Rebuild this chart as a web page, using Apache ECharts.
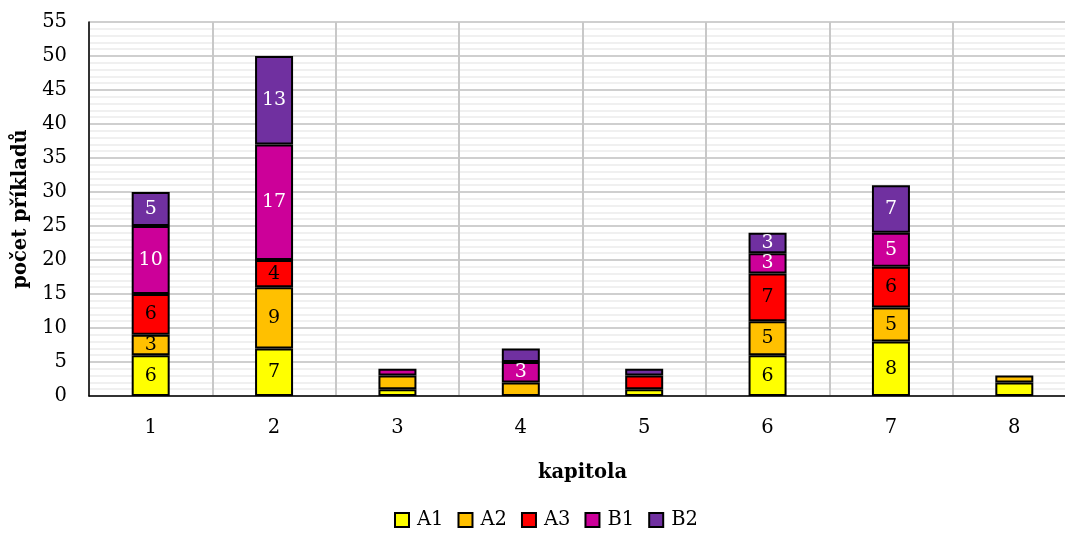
<!DOCTYPE html>
<html>
<head>
<meta charset="utf-8">
<script src="https://cdn.jsdelivr.net/npm/echarts@6/dist/echarts.min.js"></script>
<style>
  html, body { margin: 0; padding: 0; background: #fff; overflow: hidden; width: 1065px; height: 539px; }
  #chart { width: 1090px; height: 539px; }
</style>
</head>
<body>
<div id="chart"></div>
<script>
// Chapters on the x axis
const kapitoly = ['1', '2', '3', '4', '5', '6', '7', '8'];

// Number of exercises per chapter and level
const A1 = [6, 7, 1, 0, 1, 6, 8, 2];
const A2 = [3, 9, 2, 2, 0, 5, 5, 1];
const A3 = [6, 4, 0, 0, 2, 7, 6, 0];
const B1 = [10, 17, 1, 3, 0, 3, 5, 0];
const B2 = [5, 13, 0, 2, 1, 3, 7, 0];

const levels = [
  { name: 'A1', data: A1, color: '#FFFF00', text: '#000' },
  { name: 'A2', data: A2, color: '#FFC000', text: '#000' },
  { name: 'A3', data: A3, color: '#FF0000', text: '#000' },
  { name: 'B1', data: B1, color: '#CC0099', text: '#fff' },
  { name: 'B2', data: B2, color: '#7030A0', text: '#fff' }
];

const FONT = 'DejaVu Serif';
const SIZE = 19.5;

const chart = echarts.init(document.getElementById('chart'), null, { renderer: 'canvas' });

chart.setOption({
  backgroundColor: '#ffffff',
  animation: false,
  textStyle: { fontFamily: FONT },
  grid: { left: 89, top: 22, width: 987, height: 374, containLabel: false },
  legend: {
    bottom: 4,
    left: 389,
    itemWidth: 14,
    itemHeight: 14,
    itemGap: 14,
    icon: 'rect',
    textStyle: { fontFamily: FONT, fontSize: SIZE, color: '#000', padding: [0, 0, 0, 3] },
    data: levels.map(l => l.name)
  },
  xAxis: {
    type: 'category',
    data: kapitoly,
    boundaryGap: true,
    name: 'kapitola',
    nameLocation: 'middle',
    nameGap: 67,
    nameTextStyle: { fontFamily: FONT, fontSize: SIZE, fontWeight: 'bold', color: '#000' },
    axisLine: { show: true, lineStyle: { color: '#000', width: 1.5 } },
    axisTick: { show: false },
    axisLabel: { fontFamily: FONT, fontSize: SIZE, color: '#000', margin: 22 },
    splitLine: { show: true, interval: 0, lineStyle: { color: '#c8c8c8', width: 2 } }
  },
  yAxis: {
    type: 'value',
    min: 0,
    max: 55,
    interval: 5,
    name: 'počet příkladů',
    nameLocation: 'middle',
    nameGap: 57,
    nameTextStyle: { fontFamily: FONT, fontSize: SIZE, fontWeight: 'bold', color: '#000' },
    axisLine: { show: true, lineStyle: { color: '#000', width: 1.5 } },
    axisTick: { show: false },
    axisLabel: { fontFamily: FONT, fontSize: SIZE, color: '#000', margin: 22 },
    splitLine: { show: true, lineStyle: { color: '#cfcfcf', width: 2 } },
    minorTick: { show: false, splitNumber: 5 },
    minorSplitLine: { show: true, lineStyle: { color: '#ececec', width: 1.5 } }
  },
  series: levels.map(l => ({
    name: l.name,
    type: 'bar',
    stack: 'celkem',
    barWidth: 38,
    data: l.data.map(v => (v === 0 ? '-' : v)),
    itemStyle: { color: l.color, borderColor: '#000', borderWidth: 2 },
    label: {
      show: true,
      position: 'inside',
      fontFamily: FONT,
      fontSize: 19,
      color: l.text,
      formatter: p => (p.value >= 3 ? String(p.value) : '')
    }
  }))
});
</script>
</body>
</html>
